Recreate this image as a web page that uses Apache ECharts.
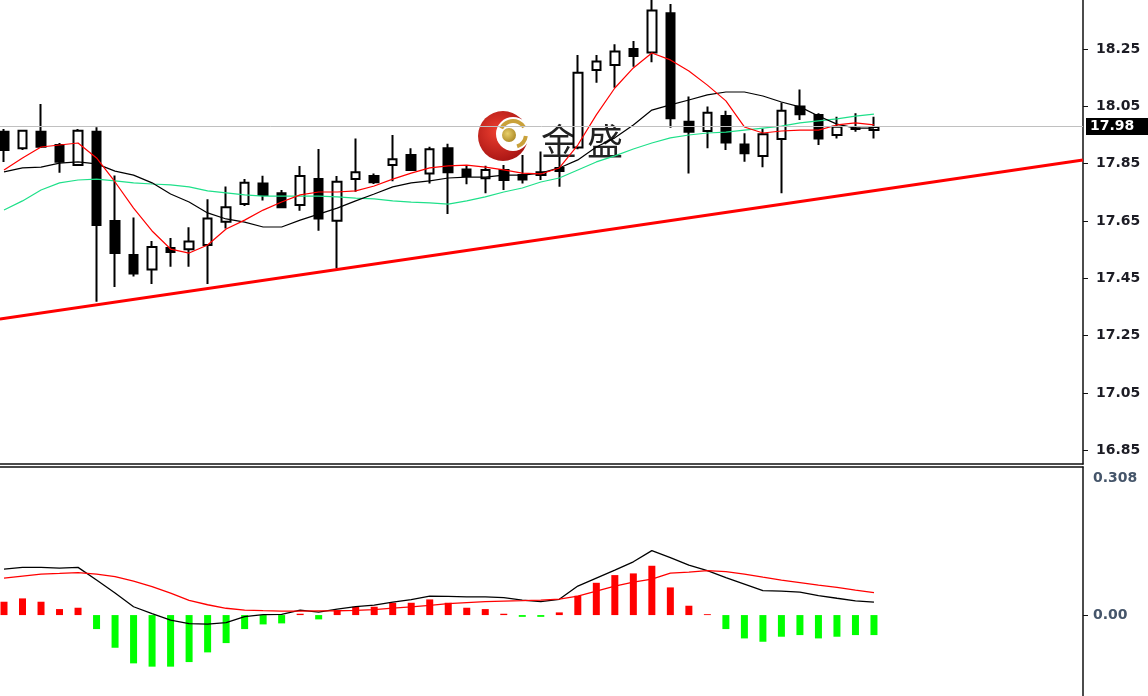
<!DOCTYPE html>
<html><head><meta charset="utf-8">
<script src="https://cdn.jsdelivr.net/npm/echarts@6/dist/echarts.min.js"></script>
<style>html,body{margin:0;padding:0;background:#fff}#c{width:1148px;height:696px}</style>
</head><body><div id="c"></div>
<script>
// ---- candle data (bar index 0..47) ----
const opens  = [17.961,17.904,17.961,17.915,17.845,17.961,17.650,17.531,17.481,17.556,17.551,17.566,17.647,17.709,17.781,17.747,17.706,17.796,17.651,17.796,17.807,17.845,17.880,17.816,17.904,17.830,17.799,17.828,17.810,17.810,17.835,17.906,18.177,18.194,18.250,18.238,18.375,17.996,17.964,18.016,17.917,17.877,17.936,18.049,18.020,17.950,17.971,17.967];
const closes = [17.898,17.965,17.909,17.857,17.965,17.636,17.538,17.467,17.559,17.542,17.578,17.659,17.698,17.783,17.741,17.698,17.807,17.659,17.787,17.820,17.785,17.865,17.828,17.900,17.820,17.807,17.828,17.793,17.795,17.820,17.824,18.167,18.206,18.241,18.226,18.384,18.008,17.961,18.028,17.924,17.886,17.953,18.035,18.022,17.938,17.979,17.973,17.978];
const lows   = [17.856,17.898,17.905,17.818,17.842,17.368,17.420,17.456,17.430,17.490,17.490,17.430,17.624,17.702,17.721,17.694,17.686,17.616,17.485,17.752,17.779,17.789,17.824,17.781,17.674,17.778,17.747,17.758,17.781,17.793,17.769,17.900,18.132,18.115,18.188,18.204,17.975,17.816,17.904,17.898,17.857,17.837,17.747,18.002,17.915,17.938,17.961,17.938];
const highs  = [17.971,17.967,18.058,17.922,17.971,17.977,17.809,17.662,17.580,17.591,17.628,17.726,17.770,17.796,17.808,17.758,17.842,17.901,17.807,17.938,17.816,17.950,17.904,17.909,17.919,17.845,17.843,17.845,17.880,17.892,17.873,18.229,18.229,18.267,18.278,18.430,18.407,18.084,18.049,18.035,17.956,17.973,18.063,18.109,18.026,18.014,18.026,18.014];
// ---- moving averages ----
const maFast = [17.828,17.870,17.908,17.915,17.922,17.870,17.786,17.695,17.615,17.552,17.538,17.566,17.622,17.653,17.688,17.716,17.741,17.751,17.751,17.755,17.772,17.796,17.817,17.835,17.842,17.845,17.838,17.828,17.817,17.814,17.835,17.915,18.020,18.114,18.184,18.236,18.212,18.173,18.124,18.069,17.978,17.957,17.964,17.967,17.967,17.985,17.992,17.985];
const maMid  = [17.821,17.835,17.838,17.852,17.856,17.849,17.824,17.810,17.783,17.744,17.716,17.678,17.657,17.646,17.629,17.629,17.653,17.674,17.695,17.720,17.744,17.769,17.783,17.790,17.800,17.803,17.803,17.810,17.810,17.817,17.835,17.863,17.908,17.940,17.985,18.037,18.055,18.072,18.090,18.100,18.100,18.086,18.065,18.048,18.016,17.988,17.974,17.974];
const maSlow = [17.688,17.720,17.758,17.783,17.793,17.796,17.790,17.783,17.779,17.776,17.769,17.755,17.748,17.741,17.737,17.737,17.737,17.737,17.734,17.730,17.727,17.720,17.716,17.713,17.709,17.720,17.734,17.751,17.765,17.786,17.800,17.828,17.856,17.877,17.901,17.922,17.940,17.950,17.957,17.960,17.967,17.974,17.981,17.992,17.999,18.006,18.016,18.023];
// ---- MACD panel ----
const macdHist = [0.030,0.0375,0.030,0.0135,0.0165,-0.0315,-0.0735,-0.1086,-0.116,-0.116,-0.1057,-0.0839,-0.063,-0.0315,-0.021,-0.0187,0.003,-0.0097,0.011,0.0187,0.0187,0.0277,0.0277,0.0352,0.0277,0.0165,0.0135,0.003,-0.004,-0.004,0.006,0.0434,0.0726,0.0899,0.0937,0.1109,0.0622,0.021,0.002,-0.0315,-0.0525,-0.060,-0.0487,-0.045,-0.0525,-0.0487,-0.045,-0.045];
const macdLine = [0.1034,0.1072,0.1072,0.1057,0.1072,0.0787,0.0495,0.0187,0.0034,-0.0112,-0.0191,-0.0202,-0.0169,-0.0034,0.0011,0.0016,0.0112,0.0067,0.0135,0.0191,0.0225,0.0292,0.0348,0.0427,0.042,0.0411,0.0411,0.0393,0.0337,0.0304,0.0355,0.0652,0.0832,0.1012,0.1198,0.145,0.1293,0.1124,0.1,0.0843,0.0697,0.0551,0.054,0.0517,0.0438,0.0378,0.0319,0.0292];
const signalLine = [0.0832,0.0877,0.0922,0.0937,0.0955,0.0922,0.0866,0.0764,0.0641,0.0495,0.033,0.0232,0.0153,0.0112,0.0099,0.009,0.009,0.0094,0.0097,0.0106,0.0124,0.0157,0.0184,0.0218,0.0259,0.0281,0.0301,0.0315,0.0324,0.0337,0.036,0.0427,0.054,0.0652,0.0742,0.0809,0.0944,0.0967,0.1,0.0978,0.0922,0.0854,0.0787,0.0731,0.0674,0.0623,0.0562,0.0506];
// ---- axes / annotations ----
const priceTicks = [16.85,17.05,17.25,17.45,17.65,17.85,18.05,18.25];
const macdTicks = [0, 0.308];
const macdTickLabels = ['0.00', '0.308'];
const lastPrice = 17.98;
const trendX = [-0.22, 58.29];
const trendY = [17.308, 17.863];
const xRange = [-0.216, 58.293];
const priceRange = [16.802, 18.421];
const macdRange = [-0.182, 0.333];

const idx = opens.map((_, i) => i);
const candleData = idx.map(i => [i, opens[i], closes[i], lows[i], highs[i]]);
const pair = arr => arr.map((v, i) => [i, v]);

const chart = echarts.init(document.getElementById('c'), null, {renderer: 'canvas'});
const axisFont = {fontFamily: 'DejaVu Sans', fontWeight: 'bold', fontSize: 14};

chart.setOption({
  animation: false,
  backgroundColor: '#fff',
  grid: [
    {left: 0, top: 0, width: 1083, height: 464},
    {left: 0, top: 467, width: 1083, height: 229}
  ],
  xAxis: [
    {type: 'value', gridIndex: 0, min: xRange[0], max: xRange[1],
     axisLine: {show: true, onZero: false, lineStyle: {color: '#111', width: 1.5}},
     axisTick: {show: false}, axisLabel: {show: false}, splitLine: {show: false}},
    {type: 'value', gridIndex: 1, min: xRange[0], max: xRange[1], position: 'top',
     axisLine: {show: true, onZero: false, lineStyle: {color: '#111', width: 1.5}},
     axisTick: {show: false}, axisLabel: {show: false}, splitLine: {show: false}}
  ],
  yAxis: [
    {type: 'value', gridIndex: 0, position: 'right', min: priceRange[0], max: priceRange[1],
     axisLine: {show: true, onZero: false, lineStyle: {color: '#111', width: 1.5}},
     axisTick: {show: true, length: 5, customValues: priceTicks, lineStyle: {color: '#111'}},
     axisLabel: Object.assign({show: true, customValues: priceTicks, margin: 13, color: '#1c1c24',
       formatter: v => v.toFixed(2)}, axisFont),
     splitLine: {show: false}},
    {type: 'value', gridIndex: 1, position: 'right', min: macdRange[0], max: macdRange[1],
     axisLine: {show: true, onZero: false, lineStyle: {color: '#111', width: 1.5}},
     axisTick: {show: true, length: 5, customValues: [0], lineStyle: {color: '#111'}},
     axisLabel: Object.assign({show: true, customValues: macdTicks, margin: 10, color: '#45556a',
       formatter: v => macdTickLabels[macdTicks.indexOf(v)] || ''}, axisFont),
     splitLine: {show: false}}
  ],
  graphic: [
    {type: 'circle', z: 1, shape: {cx: 503, cy: 136, r: 25},
     style: {fill: new echarts.graphic.RadialGradient(0.4, 0.4, 0.75, [{offset: 0, color: '#ee4030'}, {offset: 1, color: '#9c0d0e'}])}},
    {type: 'circle', z: 1, shape: {cx: 513, cy: 134, r: 17}, style: {fill: '#fff'}},
    {type: 'arc', z: 1, shape: {cx: 513, cy: 134, r: 13, startAngle: -2.7, endAngle: -0.55}, style: {stroke: '#c9a13a', lineWidth: 4, fill: null}},
    {type: 'arc', z: 1, shape: {cx: 513, cy: 134, r: 13, startAngle: 0.15, endAngle: 1.25}, style: {stroke: '#c9a13a', lineWidth: 4, fill: null}},
    {type: 'circle', z: 1, shape: {cx: 509, cy: 135, r: 7},
     style: {fill: new echarts.graphic.RadialGradient(0.4, 0.4, 0.7, [{offset: 0, color: '#e8cf6a'}, {offset: 1, color: '#a88420'}])}},
    {type: 'text', z: 1, x: 559, y: 141, style: {text: '金', font: '36px "Noto Sans CJK SC"', fill: '#222', align: 'center', verticalAlign: 'middle'}},
    {type: 'text', z: 1, x: 605, y: 141, style: {text: '盛', font: '36px "Noto Sans CJK SC"', fill: '#222', align: 'center', verticalAlign: 'middle'}}
  ],
  series: [
    {type: 'candlestick', xAxisIndex: 0, yAxisIndex: 0, data: candleData,
     encode: {x: 0, y: [1, 2, 3, 4]}, barWidth: 9,
     itemStyle: {color: '#fff', color0: '#000', borderColor: '#000', borderColor0: '#000', borderWidth: 2},
     markLine: {silent: true, symbol: ['none', 'none'], animation: false,
       lineStyle: {color: '#c0c0c0', width: 1, type: 'solid'},
       label: {show: true, position: 'end', distance: 3, formatter: lastPrice.toFixed(2),
         color: '#fff', backgroundColor: '#000', padding: [2, 14, 1, 4],
         fontFamily: 'DejaVu Sans', fontWeight: 'bold', fontSize: 14},
       data: [{yAxis: lastPrice}]}},
    {type: 'line', xAxisIndex: 0, yAxisIndex: 0, data: [[trendX[0], trendY[0]], [trendX[1], trendY[1]]],
     symbol: 'none', lineStyle: {color: '#ff0000', width: 3}},
    {type: 'line', xAxisIndex: 0, yAxisIndex: 0, data: pair(maSlow), symbol: 'none', lineStyle: {color: '#1fe08a', width: 1.2}},
    {type: 'line', xAxisIndex: 0, yAxisIndex: 0, data: pair(maMid), symbol: 'none', lineStyle: {color: '#000', width: 1.2}},
    {type: 'line', xAxisIndex: 0, yAxisIndex: 0, data: pair(maFast), symbol: 'none', lineStyle: {color: '#ff0000', width: 1.2}},
    {type: 'bar', xAxisIndex: 1, yAxisIndex: 1, barWidth: 7,
     data: macdHist.map((v, i) => ({value: [i, v], itemStyle: {color: v >= 0 ? '#ff0000' : '#00ff00'}}))},
    {type: 'line', xAxisIndex: 1, yAxisIndex: 1, data: pair(macdLine), symbol: 'none', lineStyle: {color: '#000', width: 1.3}},
    {type: 'line', xAxisIndex: 1, yAxisIndex: 1, data: pair(signalLine), symbol: 'none', lineStyle: {color: '#ff0000', width: 1.3}}
  ]
});
</script>
</body></html>
